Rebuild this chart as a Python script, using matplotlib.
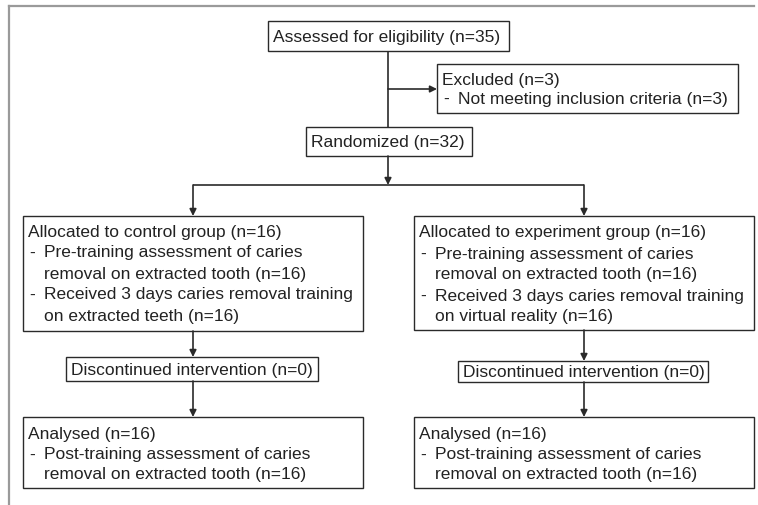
import matplotlib.pyplot as plt
from matplotlib.patches import Rectangle

plt.rcParams['font.family'] = ['Liberation Sans', 'DejaVu Sans']

# flowchart texts (heading, then bullet lines; continuation lines start with '  ')
assessed_txt = ['Assessed for eligibility (n=35)']
excluded_txt = ['Excluded (n=3)', '- Not meeting inclusion criteria (n=3)']
random_txt = ['Randomized (n=32)']
control_txt = ['Allocated to control group (n=16)',
               '- Pre-training assessment of caries',
               '  removal on extracted tooth (n=16)',
               '- Received 3 days caries removal training',
               '  on extracted teeth (n=16)']
exper_txt = ['Allocated to experiment group (n=16)',
             '- Pre-training assessment of caries',
             '  removal on extracted tooth (n=16)',
             '- Received 3 days caries removal training',
             '  on virtual reality (n=16)']
disc_txt = ['Discontinued intervention (n=0)']
analysed_txt = ['Analysed (n=16)',
                '- Post-training assessment of caries',
                '  removal on extracted tooth (n=16)']

W, H = 758, 506
fig = plt.figure(figsize=(W / 100, H / 100), dpi=100)
ax = fig.add_axes([0, 0, 1, 1])
ax.set_xlim(0, W)
ax.set_ylim(H, 0)
ax.axis('off')

LC = '#2a2a2a'
FS = 12.5

# outer frame (only top and left edge visible)
ax.plot([9, 9], [7, H + 5], color='#9a9a9a', lw=1.6)
ax.plot([9, W - 4], [7, 7], color='#9a9a9a', lw=1.6)


def box(x0, y0, x1, y1, lines, first_y, step, pad=5):
    ax.add_patch(Rectangle((x0, y0), x1 - x0, y1 - y0, fill=False, ec=LC, lw=1.0))
    for i, ln in enumerate(lines):
        y = first_y + i * step
        if ln.startswith('- '):
            ax.text(x0 + pad + 1, y, '-', fontsize=FS, va='center', ha='left', color='#222')
            ax.text(x0 + pad + 16, y, ln[2:], fontsize=FS, va='center', ha='left', color='#222')
        elif ln.startswith('  '):
            ax.text(x0 + pad + 16, y, ln[2:], fontsize=FS, va='center', ha='left', color='#222')
        else:
            ax.text(x0 + pad, y, ln, fontsize=FS, va='center', ha='left', color='#222')


def line(xs, ys):
    ax.plot(xs, ys, color=LC, lw=1.2, solid_capstyle='butt')


def arrow(x0, y0, x1, y1):
    ax.annotate('', xy=(x1, y1), xytext=(x0, y0),
                arrowprops=dict(arrowstyle='-|>', color=LC, lw=1.2,
                                mutation_scale=10, shrinkA=0, shrinkB=0))


box(268, 22, 509, 52, assessed_txt, 37, 0)
box(437, 65, 738, 114, excluded_txt, 80, 19)
box(306, 128, 472, 157, random_txt, 142.5, 0)
box(23, 217, 363, 332, control_txt, 232, 21)
box(414, 217, 754, 331, exper_txt, 233, 21)
box(66, 358, 318, 382, disc_txt, 370, 0)
box(458, 362, 708, 383, disc_txt, 372.5, 0)
box(23, 418, 363, 489, analysed_txt, 435, 20)
box(414, 418, 754, 489, analysed_txt, 435, 20)

# connectors
line([388, 388], [52, 128])
arrow(388, 90, 437, 90)
arrow(388, 157, 388, 186)
line([193, 584], [186, 186])
arrow(193, 186, 193, 217)
arrow(584, 186, 584, 217)
arrow(193, 332, 193, 358)
arrow(584, 331, 584, 362)
arrow(193, 382, 193, 418)
arrow(584, 383, 584, 418)

fig.savefig('out.png', dpi=100)
